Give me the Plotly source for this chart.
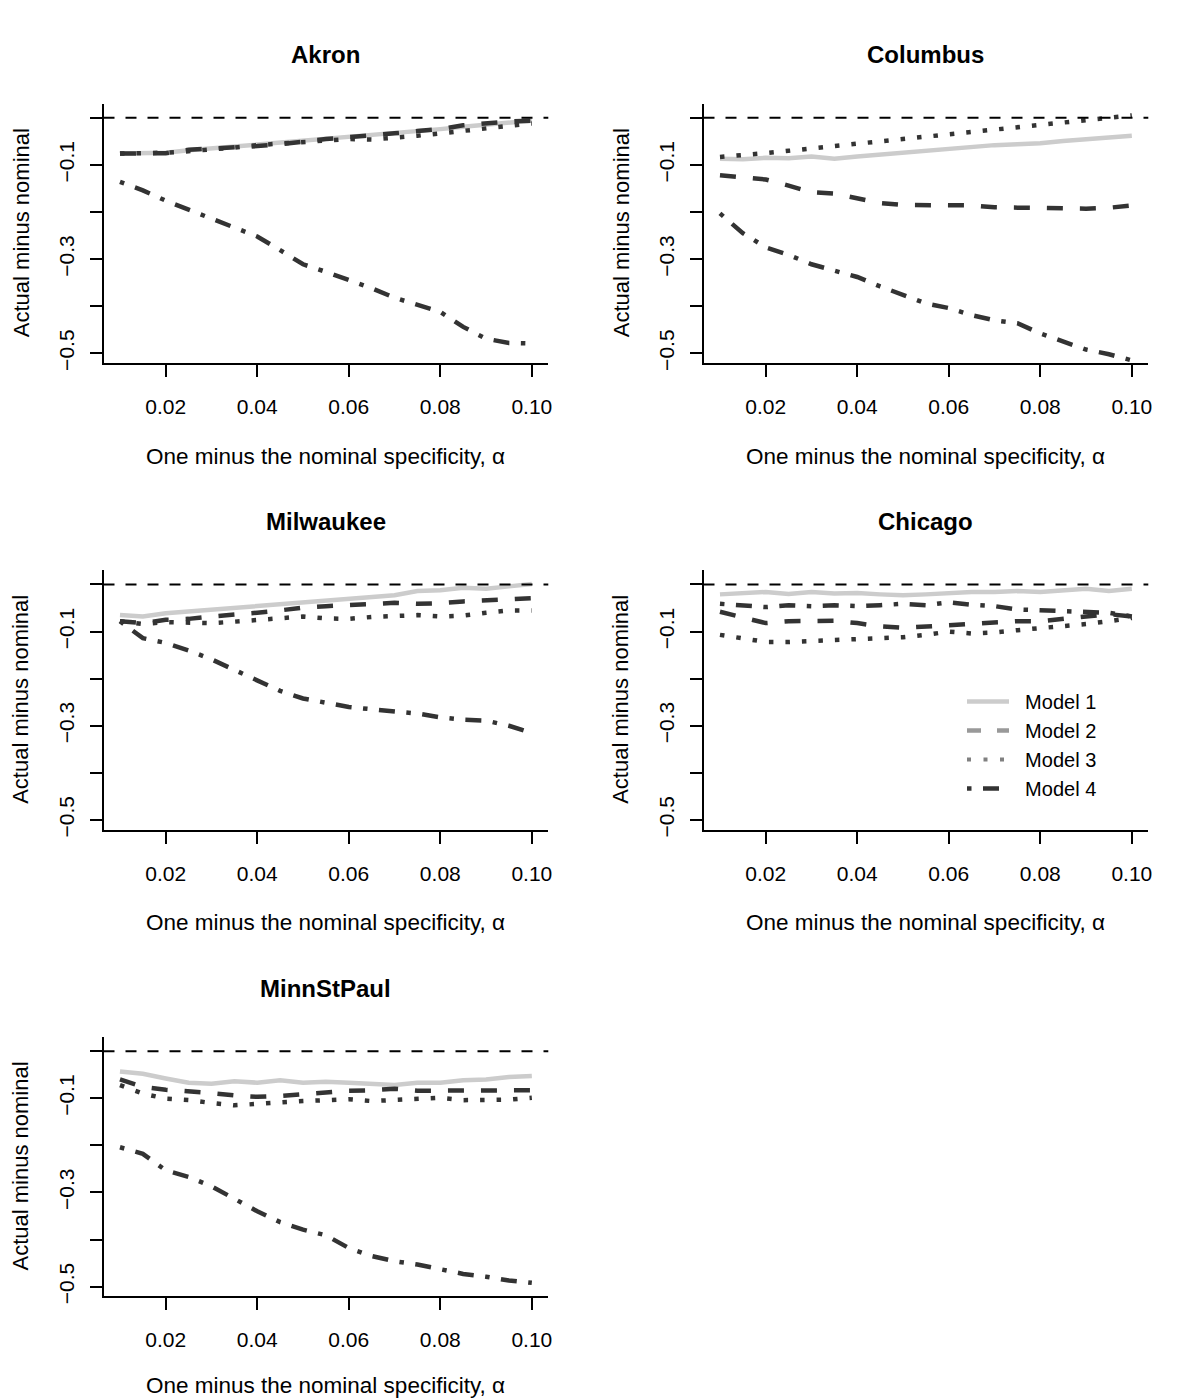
import plotly
import plotly.graph_objects

# x values: one minus the nominal specificity
alpha = [0.010, 0.015, 0.020, 0.025, 0.030, 0.035, 0.040, 0.045, 0.050, 0.055,
         0.060, 0.065, 0.070, 0.075, 0.080, 0.085, 0.090, 0.095, 0.100]

cities = ['Akron', 'Columbus', 'Milwaukee', 'Chicago', 'MinnStPaul']
model_names = ['Model 1', 'Model 2', 'Model 3', 'Model 4']

# actual minus nominal, per city and model
akron_m1 = [-0.076, -0.075, -0.074, -0.069, -0.065, -0.062, -0.058, -0.054, -0.049, -0.045,
            -0.041, -0.037, -0.033, -0.029, -0.024, -0.019, -0.014, -0.010, -0.006]
akron_m2 = [-0.076, -0.075, -0.075, -0.068, -0.066, -0.062, -0.060, -0.056, -0.050, -0.045,
            -0.041, -0.038, -0.033, -0.028, -0.024, -0.016, -0.011, -0.008, -0.006]
akron_m3 = [-0.076, -0.076, -0.074, -0.071, -0.068, -0.063, -0.058, -0.055, -0.052, -0.048,
            -0.045, -0.046, -0.043, -0.038, -0.033, -0.028, -0.024, -0.018, -0.012]
akron_m4 = [-0.136, -0.154, -0.176, -0.195, -0.215, -0.232, -0.252, -0.281, -0.311, -0.327,
            -0.344, -0.362, -0.382, -0.398, -0.412, -0.444, -0.469, -0.478, -0.479]

columbus_m1 = [-0.087, -0.088, -0.085, -0.086, -0.082, -0.087, -0.082, -0.078, -0.074, -0.070,
               -0.065, -0.061, -0.058, -0.056, -0.054, -0.049, -0.045, -0.042, -0.038]
columbus_m2 = [-0.122, -0.126, -0.131, -0.144, -0.158, -0.161, -0.170, -0.181, -0.185, -0.185,
               -0.185, -0.186, -0.190, -0.191, -0.191, -0.191, -0.193, -0.191, -0.186]
columbus_m3 = [-0.083, -0.080, -0.075, -0.070, -0.065, -0.060, -0.055, -0.050, -0.045, -0.040,
               -0.035, -0.030, -0.025, -0.021, -0.015, -0.009, -0.004, 0.000, 0.005]
columbus_m4 = [-0.203, -0.245, -0.275, -0.291, -0.311, -0.325, -0.338, -0.358, -0.376, -0.394,
               -0.404, -0.419, -0.430, -0.436, -0.458, -0.474, -0.492, -0.502, -0.515]

milwaukee_m1 = [-0.065, -0.068, -0.061, -0.057, -0.053, -0.050, -0.046, -0.043, -0.038, -0.034,
                -0.031, -0.026, -0.023, -0.014, -0.012, -0.007, -0.009, -0.004, 0.001]
milwaukee_m2 = [-0.078, -0.082, -0.075, -0.073, -0.068, -0.065, -0.060, -0.055, -0.049, -0.046,
                -0.043, -0.040, -0.039, -0.041, -0.040, -0.036, -0.033, -0.031, -0.029]
milwaukee_m3 = [-0.078, -0.084, -0.080, -0.080, -0.082, -0.079, -0.075, -0.070, -0.068, -0.072,
                -0.073, -0.069, -0.066, -0.065, -0.068, -0.066, -0.060, -0.055, -0.055]
milwaukee_m4 = [-0.078, -0.114, -0.124, -0.140, -0.159, -0.181, -0.204, -0.226, -0.242, -0.252,
                -0.260, -0.265, -0.269, -0.274, -0.282, -0.287, -0.289, -0.300, -0.315]

chicago_m1 = [-0.021, -0.018, -0.016, -0.020, -0.016, -0.019, -0.018, -0.021, -0.023, -0.021,
              -0.018, -0.016, -0.016, -0.014, -0.016, -0.012, -0.009, -0.014, -0.009]
chicago_m2 = [-0.058, -0.071, -0.082, -0.078, -0.077, -0.077, -0.082, -0.089, -0.092, -0.089,
              -0.087, -0.084, -0.082, -0.078, -0.078, -0.073, -0.068, -0.063, -0.068]
chicago_m3 = [-0.107, -0.115, -0.122, -0.122, -0.120, -0.119, -0.117, -0.115, -0.112, -0.107,
              -0.100, -0.104, -0.102, -0.097, -0.093, -0.089, -0.084, -0.078, -0.071]
chicago_m4 = [-0.041, -0.044, -0.048, -0.044, -0.046, -0.044, -0.046, -0.044, -0.041, -0.044,
              -0.038, -0.043, -0.046, -0.053, -0.055, -0.055, -0.058, -0.060, -0.068]

minn_m1 = [-0.043, -0.048, -0.058, -0.067, -0.069, -0.064, -0.067, -0.062, -0.067, -0.065,
           -0.067, -0.070, -0.072, -0.067, -0.067, -0.062, -0.060, -0.055, -0.053]
minn_m2 = [-0.060, -0.076, -0.082, -0.085, -0.089, -0.094, -0.097, -0.095, -0.091, -0.087,
           -0.084, -0.083, -0.080, -0.084, -0.084, -0.082, -0.083, -0.084, -0.083]
minn_m3 = [-0.072, -0.090, -0.101, -0.104, -0.110, -0.115, -0.112, -0.108, -0.106, -0.104,
           -0.102, -0.106, -0.104, -0.102, -0.099, -0.104, -0.104, -0.103, -0.099]
minn_m4 = [-0.204, -0.218, -0.253, -0.267, -0.287, -0.313, -0.340, -0.363, -0.379, -0.391,
           -0.418, -0.435, -0.446, -0.453, -0.462, -0.473, -0.479, -0.487, -0.492]

city_data = [
    [akron_m1, akron_m2, akron_m3, akron_m4],
    [columbus_m1, columbus_m2, columbus_m3, columbus_m4],
    [milwaukee_m1, milwaukee_m2, milwaukee_m3, milwaukee_m4],
    [chicago_m1, chicago_m2, chicago_m3, chicago_m4],
    [minn_m1, minn_m2, minn_m3, minn_m4],
]

x_tickvals = [0.02, 0.04, 0.06, 0.08, 0.10]
x_ticktext = ['0.02', '0.04', '0.06', '0.08', '0.10']
y_tickvals = [0, -0.1, -0.2, -0.3, -0.4, -0.5]
y_ticktext = ['', '\u22120.1', '', '\u22120.3', '', '\u22120.5']

# line styles (R-like lty with lwd ~4)
FONT = 'Liberation Sans, Arial, Helvetica, sans-serif'
styles = [
    dict(color='#cccccc', width=4.5, dash='solid'),
    dict(color='#333333', width=4.5, dash='16px,17px'),
    dict(color='#333333', width=4.5, dash='4.5px,12px'),
    dict(color='#333333', width=4.5, dash='4.5px,11.5px,16px,11.5px'),
]
legend_styles = [
    dict(color='#cccccc', width=4.5, dash='solid'),
    dict(color='#999999', width=4.5, dash='14px,16px'),
    dict(color='#808080', width=4, dash='4px,12.5px'),
    dict(color='#333333', width=4.5, dash='4.5px,11.5px,16px,11.5px'),
]

# the page body adds an 8px margin, so the figure is placed in page pixels minus 8
OFF = 8
W, H = 1192, 1392
cell_w, cell_h = 600, 1400 / 3.0
left, right, top, bottom = 103.5, 548.3, 103.5, 362.9


def fx(px):
    return (px - OFF) / W


def fy(py):
    return 1 - (py - OFF) / H


fig = plotly.graph_objects.Figure()
annotations = []
shapes = []
layout_axes = {}

for i, city in enumerate(cities):
    r, c = divmod(i, 2)
    n = '' if i == 0 else str(i + 1)

    for k in range(4):
        fig.add_trace(
            plotly.graph_objects.Scatter(
                x=alpha,
                y=city_data[i][k],
                mode='lines',
                name=model_names[k],
                line=styles[k],
                showlegend=False,
                xaxis='x' + n,
                yaxis='y' + n,
            ))

    axis_common = dict(
        showgrid=False, zeroline=False, showline=True, linecolor='black', linewidth=2,
        ticks='outside', ticklen=12, tickwidth=2, tickcolor='black',
        tickfont=dict(family=FONT, size=21, color='black'), automargin=False,
    )
    layout_axes['xaxis' + n] = dict(
        axis_common, domain=[fx(left + c * cell_w), fx(right + c * cell_w)],
        range=[0.0064, 0.1036], anchor='y' + n,
        tickvals=x_tickvals, ticktext=x_ticktext, ticklabelstandoff=12,
    )
    layout_axes['yaxis' + n] = dict(
        axis_common, domain=[fy(bottom + r * cell_h), fy(top + r * cell_h)],
        range=[-0.5204, 0.0304], anchor='x' + n,
        tickvals=y_tickvals, ticktext=y_ticktext, tickangle=-90, ticklabelstandoff=7,
    )

    # nominal reference line at zero
    shapes.append(dict(
        type='line', xref='x' + n + ' domain', x0=0, x1=1, yref='y' + n, y0=0, y1=0,
        line=dict(color='black', width=2, dash='11px,11px'),
    ))

    # panel title and axis labels
    cx = (left + right) / 2 + c * cell_w
    annotations.append(dict(
        text='<b>' + city + '</b>', x=fx(cx), y=fy(55 + r * cell_h),
        xref='paper', yref='paper', showarrow=False, xanchor='center', yanchor='middle',
        font=dict(family=FONT, size=24, color='black'),
    ))
    annotations.append(dict(
        text='One minus the nominal specificity, \u03b1', x=fx(cx),
        y=fy(min(456 + r * cell_h, 1385)),
        xref='paper', yref='paper', showarrow=False, xanchor='center', yanchor='middle',
        font=dict(family=FONT, size=22.5, color='black'),
    ))
    annotations.append(dict(
        text='Actual minus nominal', x=fx(21 + c * cell_w),
        y=fy((top + bottom) / 2 + r * cell_h),
        xref='paper', yref='paper', showarrow=False, xanchor='center', yanchor='middle',
        textangle=-90, font=dict(family=FONT, size=22, color='black'),
    ))

# legend entries (drawn in the Chicago panel)
for k in range(4):
    fig.add_trace(
        plotly.graph_objects.Scatter(
            x=[None], y=[None], mode='lines', name='\u00a0\u00a0' + model_names[k],
            line=legend_styles[k], showlegend=True, xaxis='x4', yaxis='y4',
        ))

fig.update_layout(
    width=W, height=H,
    margin=dict(l=0, r=0, t=0, b=0),
    paper_bgcolor='white', plot_bgcolor='white',
    font=dict(family=FONT, color='black'),
    annotations=annotations,
    shapes=shapes,
    legend=dict(
        x=fx(962), y=fy(682), xanchor='left', yanchor='top',
        bgcolor='rgba(0,0,0,0)', borderwidth=0, itemwidth=42,
        font=dict(family=FONT, size=20, color='black'), tracegroupgap=0,
    ),
    **layout_axes
)

fig.write_html('out.html')
